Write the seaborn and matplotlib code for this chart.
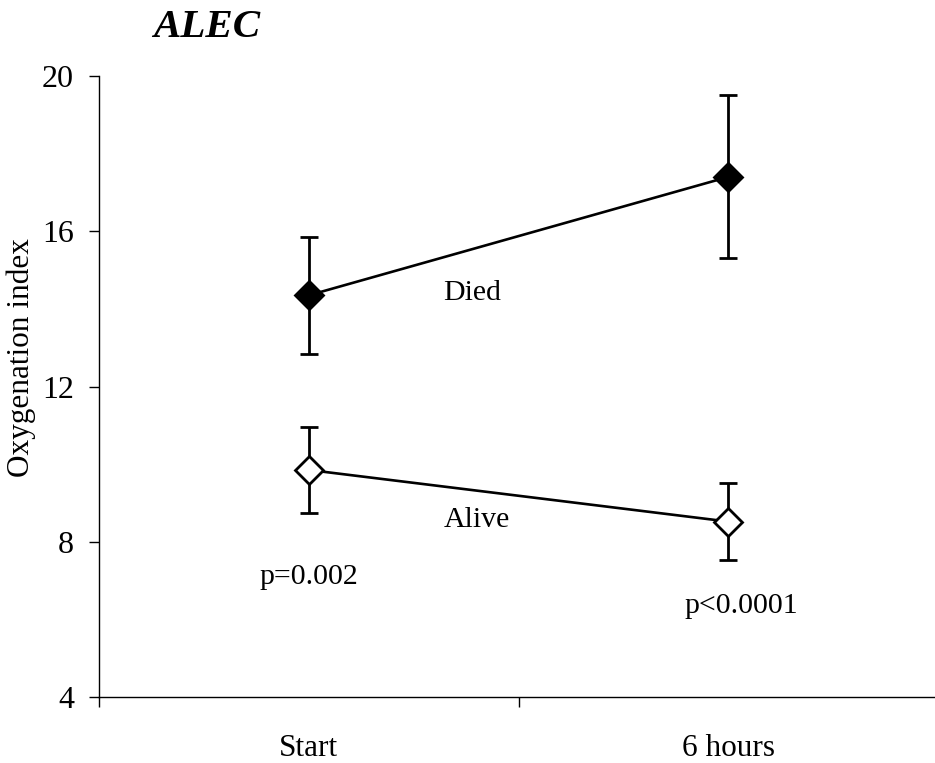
import numpy as np
import pandas as pd
import matplotlib
matplotlib.use("Agg")
import matplotlib.pyplot as plt
import seaborn as sns

# Oxygenation index by outcome group, mean with error bars
categories = ["Start", "6 hours"]
died_mean = [14.35, 17.40]
died_err = [1.50, 2.10]
alive_mean = [9.85, 8.52]
alive_err = [1.10, 1.00]
y_ticks = [4, 8, 12, 16, 20]

sns.set_theme(style="white")
plt.rcParams["font.family"] = ["Liberation Serif", "DejaVu Serif"]
plt.rcParams["text.color"] = "black"
plt.rcParams["axes.labelcolor"] = "black"
plt.rcParams["xtick.color"] = "black"
plt.rcParams["ytick.color"] = "black"

fig = plt.figure(figsize=(9.35, 7.63), dpi=100)
ax = fig.add_axes([99 / 935, 66 / 763, 839 / 935, 621 / 763])

pos = np.arange(len(categories))
df = pd.DataFrame({
    "pos": np.concatenate([pos, pos]),
    "value": died_mean + alive_mean,
    "err": died_err + alive_err,
    "group": ["Died"] * len(categories) + ["Alive"] * len(categories),
})

for name, face in [("Died", "black"), ("Alive", "white")]:
    sub = df[df["group"] == name]
    ax.errorbar(sub["pos"], sub["value"], yerr=sub["err"], fmt="none",
                ecolor="black", elinewidth=2.0, capsize=6.5, capthick=2.0,
                zorder=2)
    sns.lineplot(data=sub, x="pos", y="value", ax=ax, color="black",
                 linewidth=1.9, marker="D", markersize=14.5,
                 markerfacecolor=face, markeredgecolor="black",
                 markeredgewidth=2.0, zorder=3, legend=False)

ax.set_xlim(-0.5, len(categories) - 0.5)
ax.set_ylim(y_ticks[0], y_ticks[-1])
ax.set_yticks(y_ticks)
ax.set_xticks(np.arange(len(categories) + 1) - 0.5)
ax.set_xticklabels([])
ax.set_xticks(pos, minor=True)
ax.set_xticklabels(categories, minor=True)

ax.tick_params(axis="x", which="major", direction="out", length=7,
               width=1, color="black", bottom=True)
ax.tick_params(axis="x", which="minor", length=0, pad=27, labelsize=22.5)
ax.tick_params(axis="y", direction="out", length=7, width=1, color="black",
               left=True, pad=11, labelsize=23)

for side in ["top", "right"]:
    ax.spines[side].set_visible(False)
for side in ["left", "bottom"]:
    ax.spines[side].set_color("black")
    ax.spines[side].set_linewidth(1.0)

ax.set_xlabel("")
ax.set_ylabel("Oxygenation index", fontsize=22.5)
ax.yaxis.set_label_coords(-0.075, 0.546)

ax.text(0.39, 14.41, "Died", ha="center", va="center", fontsize=21.5)
ax.text(0.40, 8.56, "Alive", ha="center", va="center", fontsize=21.5)
ax.text(0.0, 7.09, "p=0.002", ha="center", va="center", fontsize=21.5)
ax.text(1.03, 6.34, "p<0.0001", ha="center", va="center", fontsize=21.5)

fig.text(153 / 935, 1 - 37 / 763, "ALEC", ha="left", va="baseline",
         fontsize=29.5, fontweight="bold", fontstyle="italic")

fig.savefig("out.png", dpi=100, facecolor="white")
